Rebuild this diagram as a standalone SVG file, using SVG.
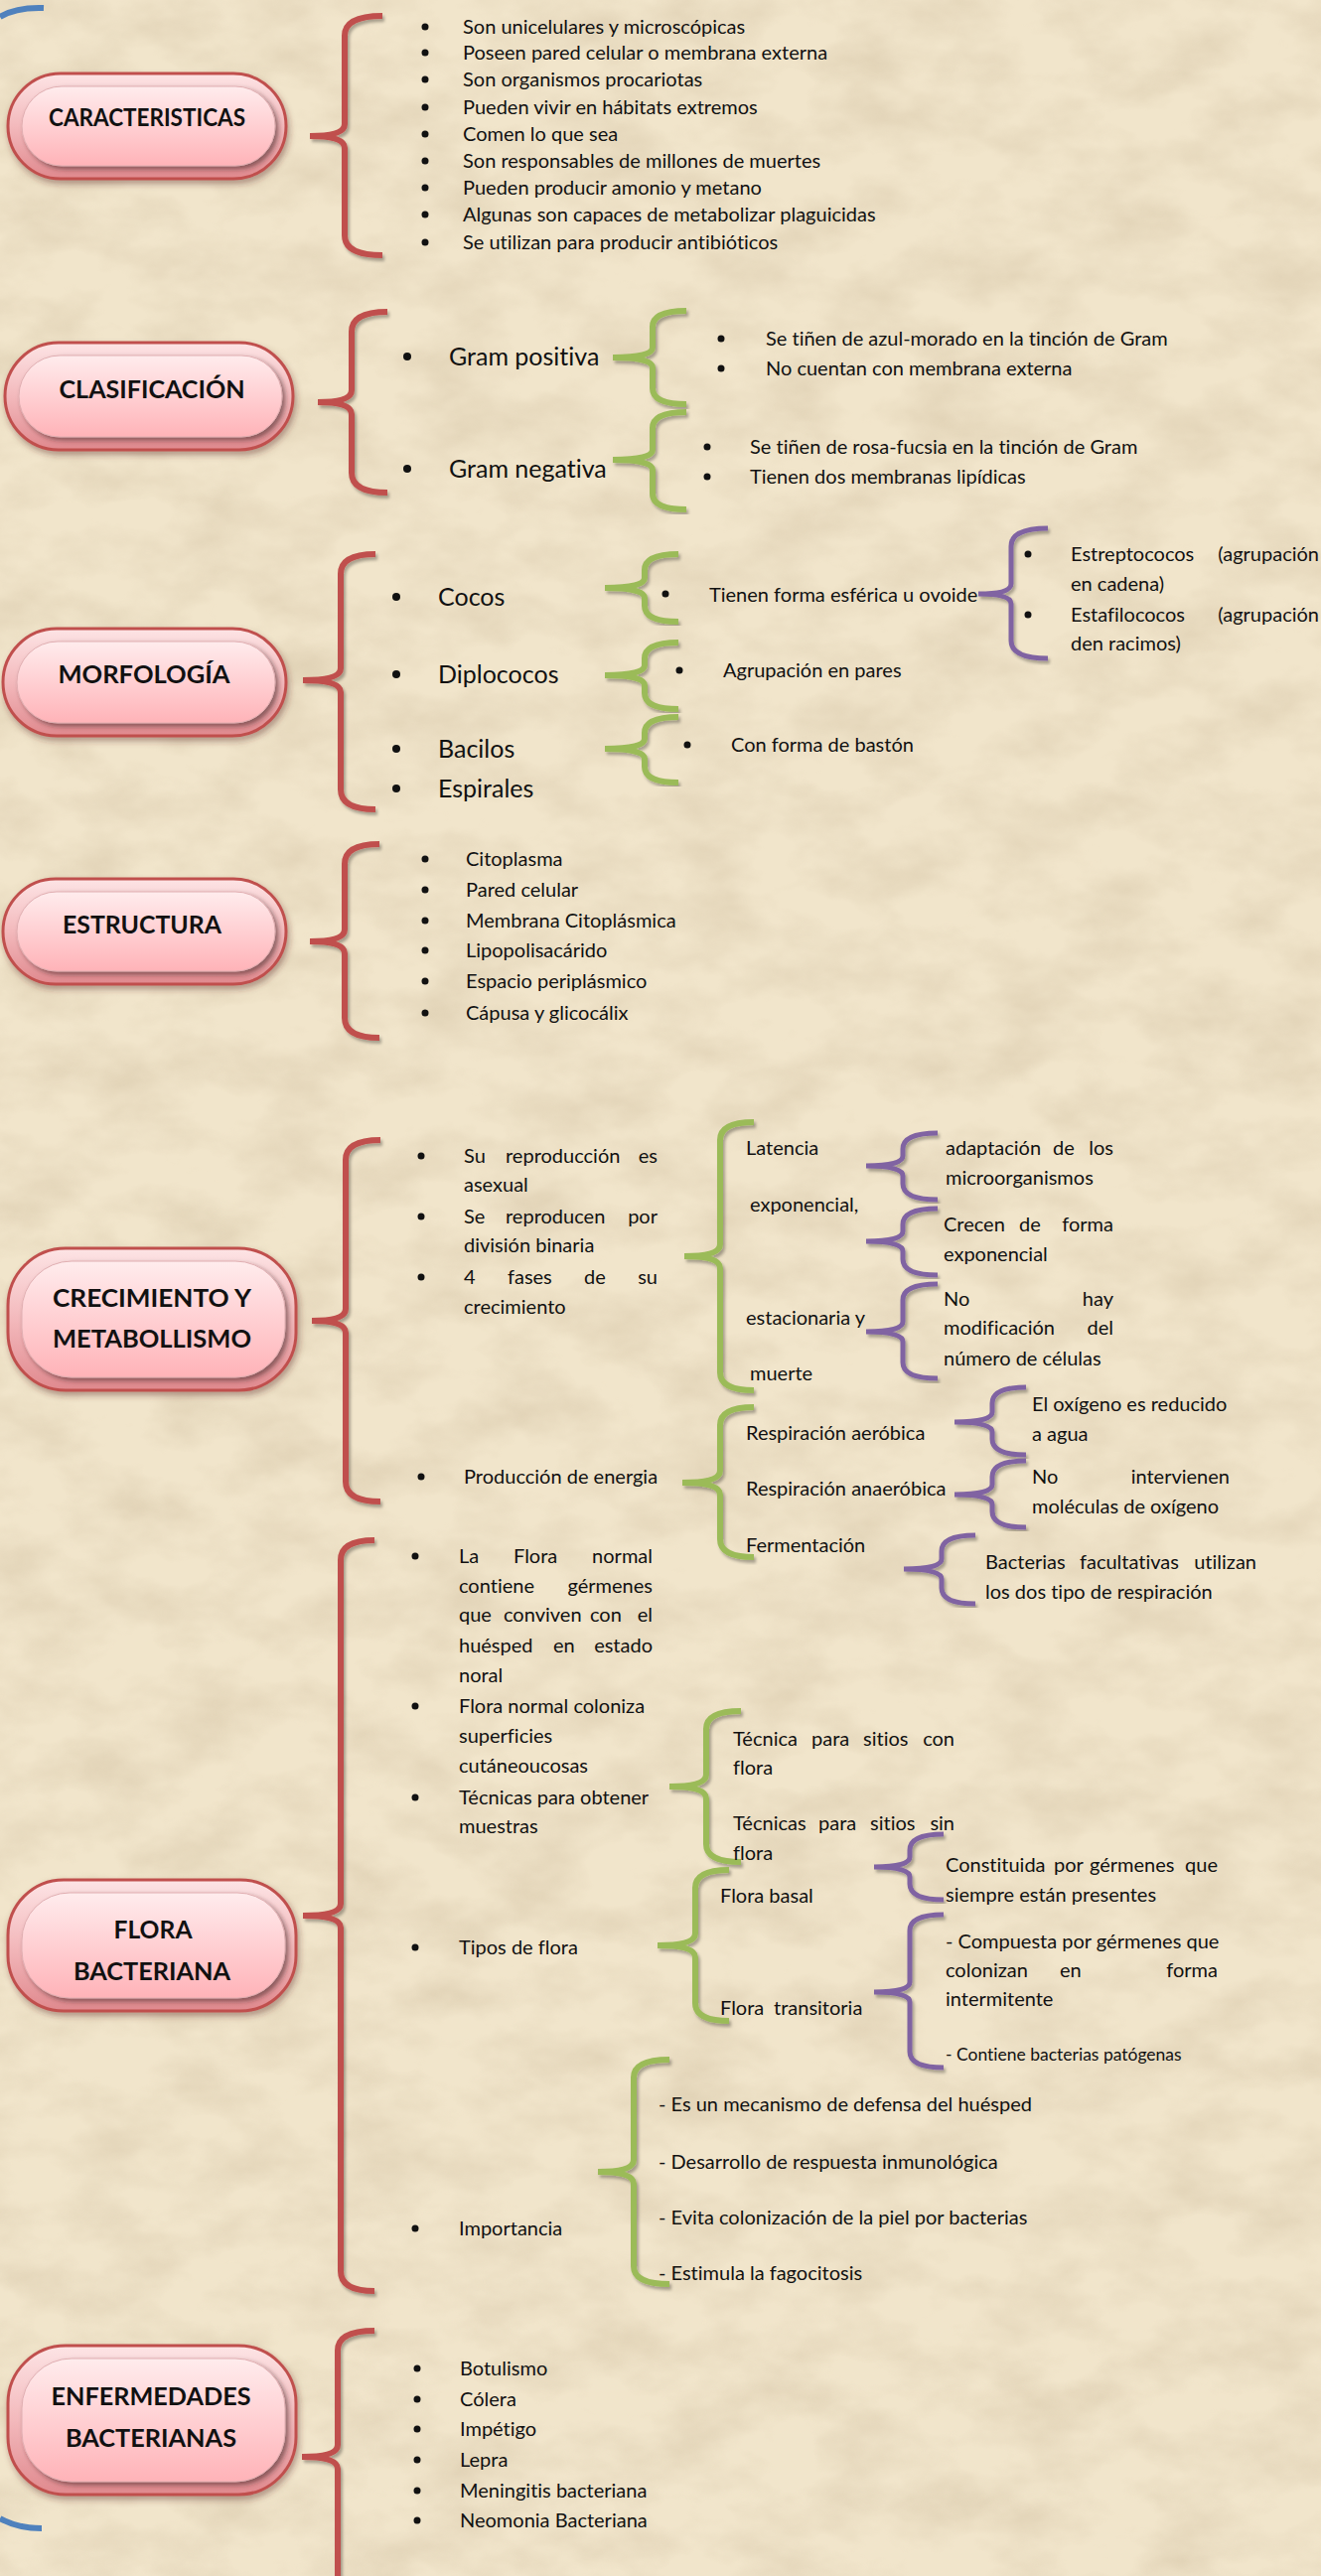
<svg xmlns="http://www.w3.org/2000/svg" width="1330" height="2594" viewBox="0 0 1330 2594">
<defs>
<style>
.t{font-family:Lato,"Liberation Sans",sans-serif;font-size:20px;fill:#111;font-variant-ligatures:none}
.L{font-size:25px}
.s{font-size:17.5px}
.e{text-anchor:end}
.h{font-family:Lato,"Liberation Sans",sans-serif;font-weight:bold;font-size:25px;text-anchor:middle;fill:#111}
.br{fill:none;stroke-width:6;filter:url(#ds)}
.r{stroke:#c0504d}
.g{stroke:#9bbb59}
.p{stroke:#8064a2;stroke-width:5}
.po{fill:url(#og);stroke:#c0504d;stroke-width:3;filter:url(#ps)}
.pi{fill:url(#ig);stroke:#e0aeb1;stroke-width:1;filter:url(#is)}
.bl{fill:none;stroke:#4f81bd;stroke-width:6}
.dot{fill:#111}
</style>
<linearGradient id="og" x1="0" y1="0" x2="0" y2="1">
<stop offset="0" stop-color="#fde4e5"/><stop offset="0.5" stop-color="#f3b9bc"/><stop offset="1" stop-color="#e0898e"/>
</linearGradient>
<linearGradient id="ig" x1="0" y1="0" x2="0" y2="1">
<stop offset="0" stop-color="#ffeced"/><stop offset="1" stop-color="#ffb3b8"/>
</linearGradient>
<filter id="ds" x="-20%" y="-5%" width="140%" height="110%">
<feDropShadow dx="2" dy="3" stdDeviation="1.5" flood-color="#000" flood-opacity="0.3"/>
</filter>
<filter id="ps" x="-10%" y="-10%" width="120%" height="130%">
<feDropShadow dx="2" dy="4" stdDeviation="3" flood-color="#5a2a2a" flood-opacity="0.4"/>
</filter>
<filter id="is" x="-10%" y="-10%" width="120%" height="130%">
<feDropShadow dx="3" dy="3" stdDeviation="2.5" flood-color="#3a2020" flood-opacity="0.55"/>
</filter>
<filter id="parch" x="0" y="0" width="100%" height="100%">
<feTurbulence type="fractalNoise" baseFrequency="0.012 0.02" numOctaves="4" seed="7" result="n"/>
<feColorMatrix in="n" type="matrix" values="0 0 0 0 0.66  0 0 0 0 0.55  0 0 0 0 0.38  1.5 0 0 0 -0.55"/>
</filter>
</defs>
<rect width="1330" height="2594" fill="#f1e5cb"/>
<rect width="1330" height="2594" filter="url(#parch)" opacity="0.65"/>

<path class="bl" d="M0 17 Q16 7 44 8"/>
<path class="bl" d="M0 2536 Q18 2546 42 2546"/>

<g id="connectors">
<path class="br r" d="M385 16 Q347 16 347 36 L347 125 Q347 137 312 137 Q347 137 347 149 L347 237 Q347 257 385 257"/>
<path class="br r" d="M390 314 Q354 314 354 334 L354 393 Q354 405 320 405 Q354 405 354 417 L354 476 Q354 496 390 496"/>
<path class="br r" d="M378 558 Q343 558 343 578 L343 673 Q343 685 305 685 Q343 685 343 697 L343 795 Q343 815 378 815"/>
<path class="br r" d="M382 850 Q347 850 347 870 L347 936 Q347 948 312 948 Q347 948 347 960 L347 1025 Q347 1045 382 1045"/>
<path class="br r" d="M383 1148 Q348 1148 348 1168 L348 1318 Q348 1330 314 1330 Q348 1330 348 1342 L348 1492 Q348 1512 383 1512"/>
<path class="br r" d="M377 1551 Q343 1551 343 1571 L343 1917 Q343 1929 305 1929 Q343 1929 343 1941 L343 2287 Q343 2307 377 2307"/>
<path class="br r" d="M377 2347 Q340 2347 340 2367 L340 2462 Q340 2474 304 2474 Q340 2474 340 2486 L340 2600"/>
<path class="br g" d="M691 313 Q657 313 657 329 L657 350 Q657 360 617 360 Q657 360 657 370 L657 391 Q657 407 691 407"/>
<path class="br g" d="M691 415 Q657 415 657 431 L657 453 Q657 463 617 463 Q657 463 657 473 L657 497 Q657 513 691 513"/>
<path class="br g" d="M683 558 Q649 558 649 574 L649 582 Q649 592 609 592 Q649 592 649 602 L649 610 Q649 626 683 626"/>
<path class="br g" d="M683 647 Q649 647 649 663 L649 670 Q649 680 609 680 Q649 680 649 690 L649 698 Q649 714 683 714"/>
<path class="br g" d="M683 722 Q649 722 649 738 L649 744 Q649 754 609 754 Q649 754 649 764 L649 772 Q649 788 683 788"/>
<path class="br g" d="M759 1130 Q725 1130 725 1148 L725 1253 Q725 1265 689 1265 Q725 1265 725 1277 L725 1382 Q725 1400 759 1400"/>
<path class="br g" d="M759 1417 Q725 1417 725 1435 L725 1481 Q725 1493 687 1493 Q725 1493 725 1505 L725 1550 Q725 1568 759 1568"/>
<path class="br g" d="M746 1723 Q711 1723 711 1741 L711 1787 Q711 1799 674 1799 Q711 1799 711 1811 L711 1857 Q711 1875 746 1875"/>
<path class="br g" d="M734 1883 Q700 1883 700 1901 L700 1947 Q700 1959 662 1959 Q700 1959 700 1971 L700 2017 Q700 2035 734 2035"/>
<path class="br g" d="M674 2074 Q638 2074 638 2092 L638 2175 Q638 2187 602 2187 Q638 2187 638 2199 L638 2282 Q638 2300 674 2300"/>
<path class="br p" d="M1055 532 Q1018 532 1018 550 L1018 588 Q1018 598 985 598 Q1018 598 1018 608 L1018 645 Q1018 663 1055 663"/>
<path class="br p" d="M944 1141 Q909 1141 909 1157 L909 1164 Q909 1174 872 1174 Q909 1174 909 1184 L909 1192 Q909 1208 944 1208"/>
<path class="br p" d="M944 1217 Q909 1217 909 1233 L909 1240 Q909 1250 872 1250 Q909 1250 909 1260 L909 1268 Q909 1284 944 1284"/>
<path class="br p" d="M944 1293 Q909 1293 909 1309 L909 1331 Q909 1341 872 1341 Q909 1341 909 1351 L909 1372 Q909 1388 944 1388"/>
<path class="br p" d="M1033 1397 Q999 1397 999 1413 L999 1422 Q999 1432 961 1432 Q999 1432 999 1442 L999 1449 Q999 1465 1033 1465"/>
<path class="br p" d="M1033 1471 Q999 1471 999 1487 L999 1495 Q999 1505 961 1505 Q999 1505 999 1515 L999 1522 Q999 1538 1033 1538"/>
<path class="br p" d="M982 1546 Q948 1546 948 1562 L948 1570 Q948 1580 910 1580 Q948 1580 948 1590 L948 1599 Q948 1615 982 1615"/>
<path class="br p" d="M950 1847 Q916 1847 916 1863 L916 1870 Q916 1880 880 1880 Q916 1880 916 1890 L916 1897 Q916 1913 950 1913"/>
<path class="br p" d="M950 1928 Q916 1928 916 1944 L916 1996 Q916 2006 880 2006 Q916 2006 916 2016 L916 2066 Q916 2082 950 2082"/>
</g>

<g id="n-caracteristicas">
<rect class="po" x="8" y="74" width="280" height="106" rx="53"/>
<rect class="pi" x="22" y="87" width="255" height="80" rx="40"/>
<text class="h" x="148" y="127" textLength="198" lengthAdjust="spacingAndGlyphs">CARACTERISTICAS</text>
</g>
<g id="n-clasificacion">
<rect class="po" x="5" y="345" width="290" height="108" rx="54"/>
<rect class="pi" x="19" y="358" width="265" height="82" rx="41"/>
<text class="h" x="153" y="401" textLength="187" lengthAdjust="spacingAndGlyphs">CLASIFICACIÓN</text>
</g>
<g id="n-morfologia">
<rect class="po" x="3" y="633" width="285" height="108" rx="54"/>
<rect class="pi" x="17" y="646" width="260" height="82" rx="41"/>
<text class="h" x="145" y="688" textLength="173" lengthAdjust="spacingAndGlyphs">MORFOLOGÍA</text>
</g>
<g id="n-estructura">
<rect class="po" x="3" y="885" width="285" height="106" rx="53"/>
<rect class="pi" x="17" y="898" width="260" height="80" rx="40"/>
<text class="h" x="143" y="940" textLength="160" lengthAdjust="spacingAndGlyphs">ESTRUCTURA</text>
</g>
<g id="n-crecimiento">
<rect class="po" x="8" y="1257" width="290" height="143" rx="58"/>
<rect class="pi" x="22" y="1270" width="265" height="117" rx="50"/>
<text class="h" x="153" y="1316" textLength="200" lengthAdjust="spacingAndGlyphs">CRECIMIENTO Y</text>
<text class="h" x="153" y="1357" textLength="200" lengthAdjust="spacingAndGlyphs">METABOLLISMO</text>
</g>
<g id="n-flora">
<rect class="po" x="8" y="1893" width="290" height="132" rx="56"/>
<rect class="pi" x="22" y="1906" width="265" height="106" rx="48"/>
<text class="h" x="154" y="1952" textLength="79" lengthAdjust="spacingAndGlyphs">FLORA</text>
<text class="h" x="153" y="1994" textLength="158" lengthAdjust="spacingAndGlyphs">BACTERIANA</text>
</g>
<g id="n-enfermedades">
<rect class="po" x="8" y="2362" width="290" height="150" rx="58"/>
<rect class="pi" x="22" y="2375" width="265" height="124" rx="50"/>
<text class="h" x="152" y="2422" textLength="201" lengthAdjust="spacingAndGlyphs">ENFERMEDADES</text>
<text class="h" x="152" y="2464" textLength="172" lengthAdjust="spacingAndGlyphs">BACTERIANAS</text>
</g>

<g id="l-caracteristicas">
<circle class="dot" cx="428" cy="27" r="3.5"/><circle class="dot" cx="428" cy="53" r="3.5"/><circle class="dot" cx="428" cy="80" r="3.5"/><circle class="dot" cx="428" cy="108" r="3.5"/><circle class="dot" cx="428" cy="135" r="3.5"/><circle class="dot" cx="428" cy="162" r="3.5"/><circle class="dot" cx="428" cy="189" r="3.5"/><circle class="dot" cx="428" cy="216" r="3.5"/><circle class="dot" cx="428" cy="244" r="3.5"/>
<text class="t" x="466" y="34">Son unicelulares y microscópicas</text>
<text class="t" x="466" y="60">Poseen pared celular o membrana externa</text>
<text class="t" x="466" y="87">Son organismos procariotas</text>
<text class="t" x="466" y="115">Pueden vivir en hábitats extremos</text>
<text class="t" x="466" y="142">Comen lo que sea</text>
<text class="t" x="466" y="169">Son responsables de millones de muertes</text>
<text class="t" x="466" y="196">Pueden producir amonio y metano</text>
<text class="t" x="466" y="223">Algunas son capaces de metabolizar plaguicidas</text>
<text class="t" x="466" y="251">Se utilizan para producir antibióticos</text>
</g>

<g id="l-clasificacion">
<circle class="dot" cx="410" cy="359" r="4"/><circle class="dot" cx="410" cy="472" r="4"/>
<text class="t L" x="452" y="368">Gram positiva</text>
<text class="t L" x="452" y="481">Gram negativa</text>
<circle class="dot" cx="726" cy="341" r="3.5"/><circle class="dot" cx="726" cy="371" r="3.5"/>
<text class="t" x="771" y="348">Se tiñen de azul-morado en la tinción de Gram</text>
<text class="t" x="771" y="378">No cuentan con membrana externa</text>
<circle class="dot" cx="712" cy="450" r="3.5"/><circle class="dot" cx="712" cy="480" r="3.5"/>
<text class="t" x="755" y="457">Se tiñen de rosa-fucsia en la tinción de Gram</text>
<text class="t" x="755" y="487">Tienen dos membranas lipídicas</text>
</g>

<g id="l-morfologia">
<circle class="dot" cx="399" cy="601" r="4"/><circle class="dot" cx="399" cy="679" r="4"/><circle class="dot" cx="399" cy="754" r="4"/><circle class="dot" cx="399" cy="794" r="4"/>
<text class="t L" x="441" y="610">Cocos</text>
<text class="t L" x="441" y="688">Diplococos</text>
<text class="t L" x="441" y="763">Bacilos</text>
<text class="t L" x="441" y="803">Espirales</text>
<circle class="dot" cx="670" cy="598" r="3.5"/>
<text class="t" x="714" y="606">Tienen forma esférica u ovoide</text>
<circle class="dot" cx="684" cy="675" r="3.5"/>
<text class="t" x="728" y="682">Agrupación en pares</text>
<circle class="dot" cx="692" cy="750" r="3.5"/>
<text class="t" x="736" y="757">Con forma de bastón</text>
<circle class="dot" cx="1035" cy="558" r="3.5"/><circle class="dot" cx="1035" cy="619" r="3.5"/>
<text class="t" x="1078" y="565">Estreptococos</text><text class="t e" x="1328" y="565">(agrupación</text>
<text class="t" x="1078" y="595">en cadena)</text>
<text class="t" x="1078" y="626">Estafilococos</text><text class="t e" x="1328" y="626">(agrupación</text>
<text class="t" x="1078" y="655">den racimos)</text>
</g>

<g id="l-estructura">
<circle class="dot" cx="428" cy="865" r="3.5"/><circle class="dot" cx="428" cy="896" r="3.5"/><circle class="dot" cx="428" cy="927" r="3.5"/><circle class="dot" cx="428" cy="957" r="3.5"/><circle class="dot" cx="428" cy="988" r="3.5"/><circle class="dot" cx="428" cy="1020" r="3.5"/>
<text class="t" x="469" y="872">Citoplasma</text>
<text class="t" x="469" y="903">Pared celular</text>
<text class="t" x="469" y="934">Membrana Citoplásmica</text>
<text class="t" x="469" y="964">Lipopolisacárido</text>
<text class="t" x="469" y="995">Espacio periplásmico</text>
<text class="t" x="469" y="1027">Cápusa y glicocálix</text>
</g>

<g id="l-crecimiento">
<circle class="dot" cx="424" cy="1164" r="3.5"/><circle class="dot" cx="424" cy="1225" r="3.5"/><circle class="dot" cx="424" cy="1286" r="3.5"/><circle class="dot" cx="424" cy="1487" r="3.5"/>
<text class="t" x="467" y="1171">Su</text><text class="t" x="509" y="1171">reproducción</text><text class="t e" x="662" y="1171">es</text>
<text class="t" x="467" y="1200">asexual</text>
<text class="t" x="467" y="1232">Se</text><text class="t" x="509" y="1232">reproducen</text><text class="t e" x="662" y="1232">por</text>
<text class="t" x="467" y="1261">división binaria</text>
<text class="t" x="467" y="1293">4</text><text class="t" x="511" y="1293">fases</text><text class="t" x="588" y="1293">de</text><text class="t e" x="662" y="1293">su</text>
<text class="t" x="467" y="1323">crecimiento</text>
<text class="t" x="751" y="1163">Latencia</text>
<text class="t" x="755" y="1220">exponencial,</text>
<text class="t" x="751" y="1334">estacionaria y</text>
<text class="t" x="755" y="1390">muerte</text>
<text class="t" x="952" y="1163">adaptación</text><text class="t" x="1060" y="1163">de</text><text class="t e" x="1121" y="1163">los</text>
<text class="t" x="952" y="1193">microorganismos</text>
<text class="t" x="950" y="1240">Crecen</text><text class="t" x="1026" y="1240">de</text><text class="t e" x="1121" y="1240">forma</text>
<text class="t" x="950" y="1270">exponencial</text>
<text class="t" x="950" y="1315">No</text><text class="t e" x="1121" y="1315">hay</text>
<text class="t" x="950" y="1344">modificación</text><text class="t e" x="1121" y="1344">del</text>
<text class="t" x="950" y="1375">número de células</text>
<text class="t" x="467" y="1494">Producción de energia</text>
<text class="t" x="751" y="1450">Respiración aeróbica</text>
<text class="t" x="751" y="1506">Respiración anaeróbica</text>
<text class="t" x="751" y="1563">Fermentación</text>
<text class="t" x="1039" y="1421">El oxígeno es reducido</text>
<text class="t" x="1039" y="1451">a agua</text>
<text class="t" x="1039" y="1494">No</text><text class="t e" x="1238" y="1494">intervienen</text>
<text class="t" x="1039" y="1524">moléculas de oxígeno</text>
<text class="t" x="992" y="1580">Bacterias</text><text class="t" x="1087" y="1580">facultativas</text><text class="t e" x="1265" y="1580">utilizan</text>
<text class="t" x="992" y="1610">los dos tipo de respiración</text>
</g>

<g id="l-flora">
<circle class="dot" cx="418" cy="1567" r="3.5"/><circle class="dot" cx="418" cy="1718" r="3.5"/><circle class="dot" cx="418" cy="1810" r="3.5"/><circle class="dot" cx="418" cy="1961" r="3.5"/><circle class="dot" cx="418" cy="2244" r="3.5"/>
<text class="t" x="462" y="1574">La</text><text class="t" x="517" y="1574">Flora</text><text class="t e" x="657" y="1574">normal</text>
<text class="t" x="462" y="1604">contiene</text><text class="t e" x="657" y="1604">gérmenes</text>
<text class="t" x="462" y="1633">que</text><text class="t" x="507" y="1633">conviven</text><text class="t" x="594" y="1633">con</text><text class="t e" x="657" y="1633">el</text>
<text class="t" x="462" y="1664">huésped</text><text class="t" x="557" y="1664">en</text><text class="t e" x="657" y="1664">estado</text>
<text class="t" x="462" y="1694">noral</text>
<text class="t" x="462" y="1725">Flora normal coloniza</text>
<text class="t" x="462" y="1755">superficies</text>
<text class="t" x="462" y="1785">cutáneoucosas</text>
<text class="t" x="462" y="1817">Técnicas para obtener</text>
<text class="t" x="462" y="1846">muestras</text>
<text class="t" x="738" y="1758">Técnica</text><text class="t" x="817" y="1758">para</text><text class="t" x="869" y="1758">sitios</text><text class="t e" x="961" y="1758">con</text>
<text class="t" x="738" y="1787">flora</text>
<text class="t" x="738" y="1843">Técnicas</text><text class="t" x="824" y="1843">para</text><text class="t" x="876" y="1843">sitios</text><text class="t e" x="961" y="1843">sin</text>
<text class="t" x="738" y="1873">flora</text>
<text class="t" x="725" y="1916">Flora basal</text>
<text class="t" x="725" y="2029">Flora</text><text class="t" x="779" y="2029">transitoria</text>
<text class="t" x="952" y="1885">Constituida</text><text class="t" x="1061" y="1885">por</text><text class="t" x="1097" y="1885">gérmenes</text><text class="t e" x="1226" y="1885">que</text>
<text class="t" x="952" y="1915">siempre están presentes</text>
<text class="t" x="952" y="1962">- Compuesta por gérmenes que</text>
<text class="t" x="952" y="1991">colonizan</text><text class="t" x="1067" y="1991">en</text><text class="t e" x="1226" y="1991">forma</text>
<text class="t" x="952" y="2020">intermitente</text>
<text class="t s" x="952" y="2075">- Contiene bacterias patógenas</text>
<text class="t" x="462" y="1968">Tipos de flora</text>
<text class="t" x="462" y="2251">Importancia</text>
<text class="t" x="663" y="2126">- Es un mecanismo de defensa del huésped</text>
<text class="t" x="663" y="2184">- Desarrollo de respuesta inmunológica</text>
<text class="t" x="663" y="2240">- Evita colonización de la piel por bacterias</text>
<text class="t" x="663" y="2296">- Estimula la fagocitosis</text>
</g>

<g id="l-enfermedades">
<circle class="dot" cx="420" cy="2385" r="3.5"/><circle class="dot" cx="420" cy="2416" r="3.5"/><circle class="dot" cx="420" cy="2446" r="3.5"/><circle class="dot" cx="420" cy="2477" r="3.5"/><circle class="dot" cx="420" cy="2508" r="3.5"/><circle class="dot" cx="420" cy="2538" r="3.5"/>
<text class="t" x="463" y="2392">Botulismo</text>
<text class="t" x="463" y="2423">Cólera</text>
<text class="t" x="463" y="2453">Impétigo</text>
<text class="t" x="463" y="2484">Lepra</text>
<text class="t" x="463" y="2515">Meningitis bacteriana</text>
<text class="t" x="463" y="2545">Neomonia Bacteriana</text>
</g>
</svg>
